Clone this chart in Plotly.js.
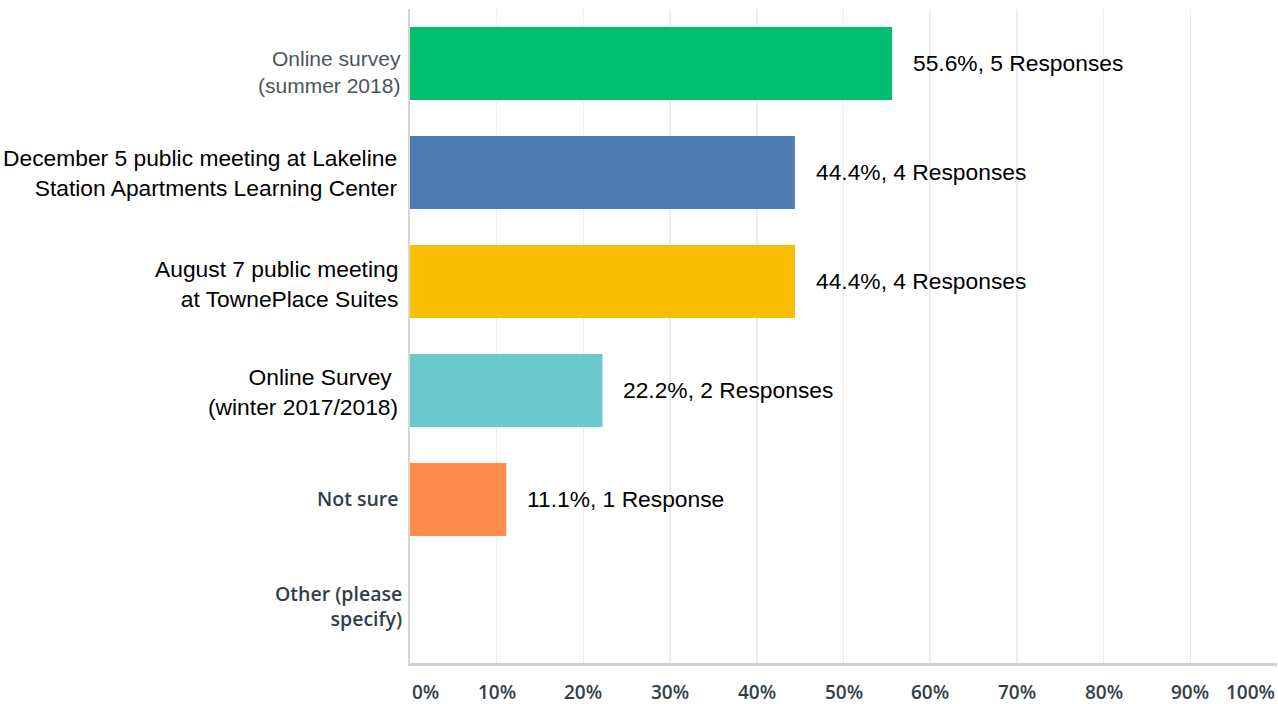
<!DOCTYPE html>
<html>
<head>
<meta charset="utf-8">
<script src="https://cdn.plot.ly/plotly-3.0.1.min.js"></script>
<style>html,body{margin:0;padding:0;background:#fff;}#chart{width:1278px;height:704px;}</style>
</head>
<body>
<div id="chart"></div>
<script>
const categories = [
  "Online survey<br>(summer 2018)",
  "December 5 public meeting at Lakeline<br>Station Apartments Learning Center",
  "August 7 public meeting<br>at TownePlace Suites",
  "Online Survey <br>(winter 2017/2018)",
  "Not sure",
  "Other (please<br>specify)"
];
const percents = [55.6, 44.4, 44.4, 22.2, 11.1, 0];
const responses = [5, 4, 4, 2, 1, 0];
const barColors = ["#00BF6F", "#507CB6", "#F9BE00", "#6BC8CD", "#FF8B4F", "#D25F90"];
const xTickVals = [0, 10, 20, 30, 40, 50, 60, 70, 80, 90, 100];
const xTickText = ["0%", "10%", "20%", "30%", "40%", "50%", "60%", "70%", "80%", "90%", "100%"];

const labelStyles = [
  {family: "Liberation Sans, Arial, sans-serif", size: 21, color: "#4a545e"},
  {family: "Liberation Sans, Arial, sans-serif", size: 22.8, color: "#000000"},
  {family: "Liberation Sans, Arial, sans-serif", size: 22.8, color: "#000000"},
  {family: "Liberation Sans, Arial, sans-serif", size: 22.8, color: "#000000"},
  {family: "Open Sans, sans-serif", size: 19.5, color: "#333e48", weight: 600},
  {family: "Open Sans, sans-serif", size: 19.5, color: "#333e48", weight: 600}
];
const labelShiftX = [-7, -10, -10, -10, -9, -6];
const labelShiftY = [-8, 0, -2, -1, 1, 3];

const trace = {
  type: "bar",
  orientation: "h",
  y: categories,
  x: percents,
  marker: {color: barColors},
  hoverinfo: "none"
};

const annotations = [];
categories.forEach((c, i) => {
  annotations.push({
    xref: "paper", yref: "y", x: 0, y: c, text: c,
    xanchor: "right", yanchor: "middle", xshift: labelShiftX[i], yshift: labelShiftY[i], align: "right",
    showarrow: false, font: labelStyles[i]
  });
  if (responses[i] > 0) {
    annotations.push({
      xref: "x", yref: "y", x: percents[i], y: c,
      text: percents[i].toFixed(1) + "%, " + responses[i] + (responses[i] === 1 ? " Response" : " Responses"),
      xanchor: "left", yanchor: "middle", xshift: 19, yshift: 1, showarrow: false,
      font: {family: "Liberation Sans, Arial, sans-serif", size: 22.8, color: "#000000"}
    });
  }
});
xTickVals.forEach((v, i) => {
  let anchor = "center";
  if (i === 0) anchor = "left";
  if (i === xTickVals.length - 1) anchor = "right";
  annotations.push({
    xref: "x", yref: "paper", x: v, y: 0, text: xTickText[i],
    xanchor: anchor, yanchor: "top", yshift: -14, showarrow: false,
    font: {family: "Open Sans, sans-serif", size: 19, color: "#333e48", weight: 600}
  });
});

const layout = {
  width: 1278, height: 704,
  margin: {l: 410, r: 1, t: 9, b: 41, pad: 0},
  paper_bgcolor: "#ffffff", plot_bgcolor: "#ffffff",
  showlegend: false,
  bargap: 0.33,
  xaxis: {
    range: [0, 100], tickvals: xTickVals, showticklabels: false,
    showgrid: true, gridcolor: "#ececec", gridwidth: 1.5,
    zeroline: false, showline: true, linecolor: "#cfcfcf", linewidth: 3,
    fixedrange: true
  },
  yaxis: {
    autorange: "reversed", showticklabels: false, showgrid: false,
    zeroline: false, showline: true, linecolor: "#d6d6d6", linewidth: 2,
    fixedrange: true
  },
  annotations: annotations
};

Plotly.newPlot("chart", [trace], layout, {displayModeBar: false, staticPlot: true});
</script>
</body>
</html>
